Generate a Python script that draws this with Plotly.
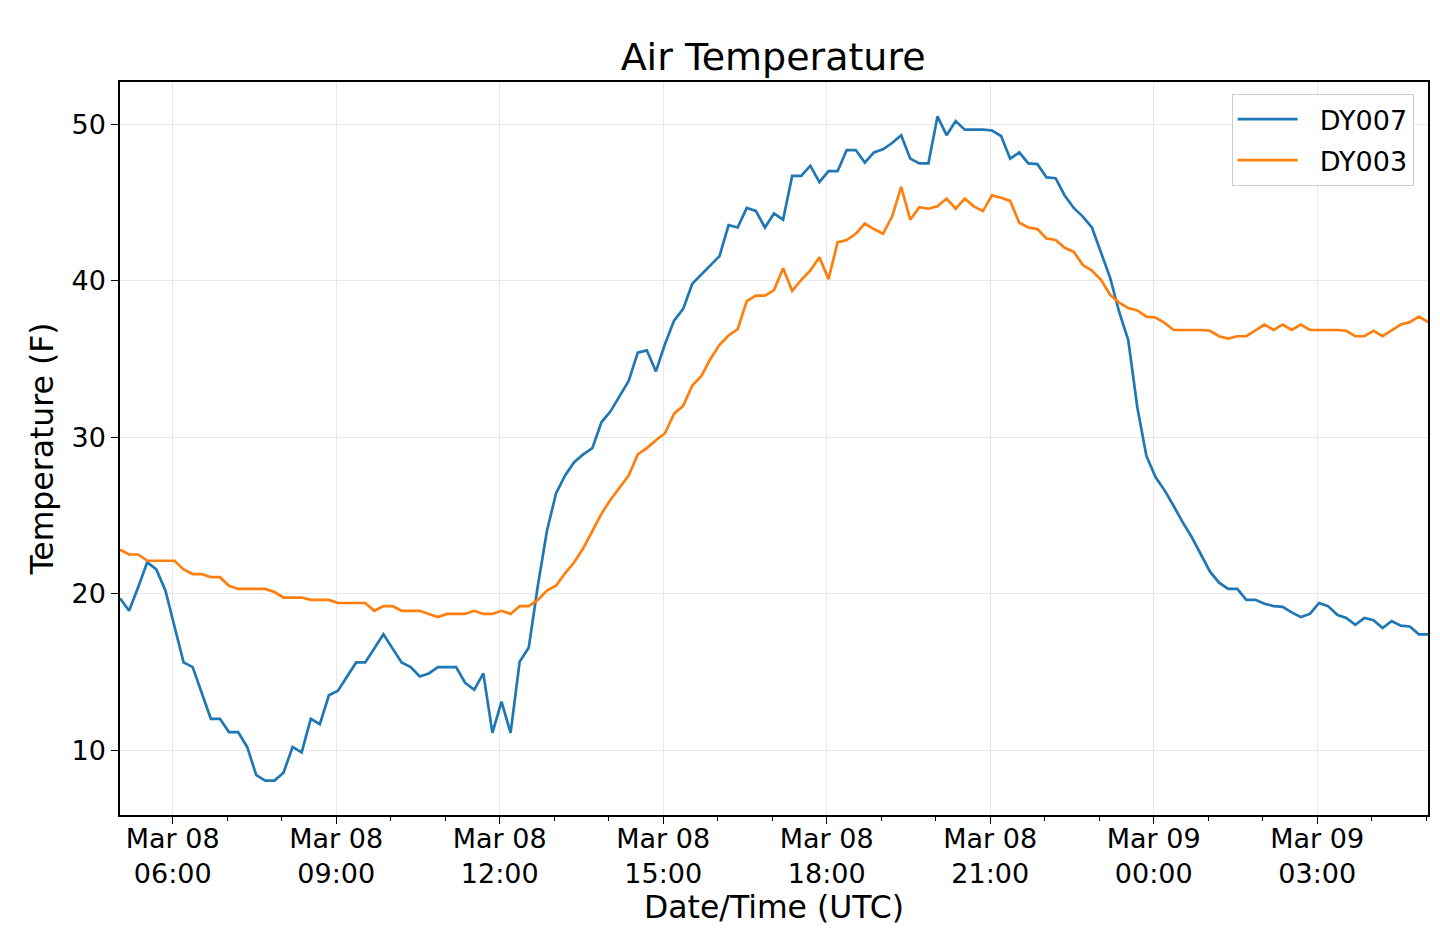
import pandas as pd
import plotly.graph_objects as go

start_time = "2019-03-08 05:02"
n_points = 145
step = "10min"

dy007 = [19.7, 18.9, 20.4, 22.0, 21.55, 20.2, 17.9, 15.6, 15.3, 13.6,
         12.0, 12.0, 11.15, 11.15, 10.2, 8.4, 8.05, 8.05, 8.55, 10.2,
         9.85, 12.0, 11.65, 13.5, 13.8, 14.7, 15.6, 15.6, 16.5, 17.4,
         16.5, 15.6, 15.3, 14.7, 14.9, 15.3, 15.3, 15.3, 14.3, 13.85,
         14.9, 11.1, 13.1, 11.1, 15.65, 16.55, 20.5, 24.0, 26.4, 27.55,
         28.4, 28.9, 29.3, 30.95, 31.65, 32.65, 33.6, 35.4, 35.55, 34.2,
         35.95, 37.45, 38.2, 39.8, 40.4, 41.0, 41.57, 43.55, 43.4, 44.65,
         44.46, 43.4, 44.3, 43.9, 46.7, 46.7, 47.35, 46.3, 47.0, 47.0,
         48.35, 48.35, 47.55, 48.2, 48.4, 48.8, 49.3, 47.8, 47.5, 47.5,
         50.5, 49.3, 50.2, 49.65, 49.65, 49.65, 49.6, 49.25, 47.8, 48.2,
         47.5, 47.45, 46.6, 46.55, 45.45, 44.65, 44.1, 43.4, 41.8, 40.2,
         38.0, 36.2, 31.9, 28.8, 27.45, 26.6, 25.6, 24.55, 23.6, 22.45,
         21.4, 20.7, 20.3, 20.3, 19.6, 19.6, 19.35, 19.2, 19.15, 18.8,
         18.5, 18.7, 19.4, 19.2, 18.65, 18.45, 18.0, 18.45, 18.3, 17.8,
         18.25, 17.95, 17.9, 17.4, 17.4]

dy003 = [22.8, 22.5, 22.5, 22.1, 22.1, 22.1, 22.1, 21.55, 21.25, 21.25,
         21.05, 21.05, 20.5, 20.3, 20.3, 20.3, 20.3, 20.1, 19.75, 19.75,
         19.75, 19.6, 19.6, 19.6, 19.4, 19.4, 19.4, 19.4, 18.9, 19.2,
         19.2, 18.9, 18.9, 18.9, 18.7, 18.5, 18.7, 18.7, 18.7, 18.9,
         18.7, 18.7, 18.9, 18.7, 19.2, 19.2, 19.6, 20.2, 20.5, 21.3,
         22.0, 22.9, 24.0, 25.1, 26.0, 26.8, 27.55, 28.9, 29.3, 29.8,
         30.25, 31.5, 32.0, 33.3, 33.9, 35.0, 35.9, 36.5, 36.9, 38.7,
         39.05, 39.05, 39.4, 40.8, 39.35, 40.05, 40.65, 41.5, 40.1, 42.45,
         42.6, 43.0, 43.65, 43.3, 43.0, 44.1, 46.0, 43.9, 44.7, 44.6,
         44.75, 45.25, 44.6, 45.25, 44.75, 44.45, 45.45, 45.3, 45.1, 43.7,
         43.4, 43.3, 42.7, 42.6, 42.1, 41.85, 41.0, 40.65, 40.05, 39.1,
         38.6, 38.25, 38.1, 37.7, 37.65, 37.3, 36.85, 36.85, 36.85, 36.85,
         36.8, 36.45, 36.3, 36.45, 36.45, 36.85, 37.2, 36.85, 37.2, 36.85,
         37.2, 36.85, 36.85, 36.85, 36.85, 36.8, 36.45, 36.45, 36.8, 36.45,
         36.8, 37.2, 37.35, 37.7, 37.35]

series_names = ["DY007", "DY003"]
series_colors = ["#1f77b4", "#ff7f0e"]
y_ticks = [10, 20, 30, 40, 50]

times = pd.date_range(start_time, periods=n_points, freq=step)

FONT = "DejaVu Sans"
fig = go.Figure()
for name, vals, col in zip(series_names, [dy007, dy003], series_colors):
    fig.add_trace(go.Scatter(
        x=times, y=vals, mode="lines", name="\u00a0\u00a0" + name,
        line=dict(color=col, width=2.7), legendgroup=name,
    ))

# page body has an 8px margin, so the figure is drawn 8px smaller/shifted
fig.update_layout(
    width=1432, height=924,
    paper_bgcolor="white", plot_bgcolor="white",
    margin=dict(l=112, r=10, t=74, b=117),
    font=dict(family=FONT, size=27, color="black"),
    title=dict(text="Air Temperature", x=0.5343, xanchor="center",
               y=0.947, yanchor="middle",
               font=dict(family=FONT, size=38, color="black")),
    showlegend=True,
    legend=dict(x=0.989, y=0.9836, xanchor="right", yanchor="top",
                bgcolor="rgba(255,255,255,0.85)", bordercolor="#cccccc",
                borderwidth=1, font=dict(family=FONT, size=27, color="black"),
                itemwidth=60, tracegroupgap=3, traceorder="grouped"),
)

fig.update_xaxes(
    range=[times[0], times[-1]],
    showline=True, linecolor="black", linewidth=1.5, mirror=True,
    showgrid=True, gridcolor="#e8e8e8", gridwidth=1,
    ticks="outside", ticklen=7, tickwidth=1.3, tickcolor="black",
    dtick=3 * 3600 * 1000, tick0="2019-03-08 00:00",
    tickformat="%b %d<br>%H:%M",
    ticklabelstandoff=-8,
    tickfont=dict(family=FONT, size=27, color="black"),
    minor=dict(ticks="outside", ticklen=4, tickwidth=1, tickcolor="black",
               dtick=3600 * 1000, showgrid=False),
    title=dict(text="Date/Time (UTC)", standoff=0,
               font=dict(family=FONT, size=31.5, color="black")),
    zeroline=False,
)
fig.update_yaxes(
    range=[5.85, 52.7],
    showline=True, linecolor="black", linewidth=1.5, mirror=True,
    showgrid=True, gridcolor="#e8e8e8", gridwidth=1,
    ticks="outside", ticklen=7, tickwidth=1.3, tickcolor="black",
    tickvals=y_ticks,
    tickfont=dict(family=FONT, size=27, color="black"),
    title=dict(text="Temperature (F)", standoff=8,
               font=dict(family=FONT, size=31.5, color="black")),
    zeroline=False,
)

fig.write_html("out.html")
